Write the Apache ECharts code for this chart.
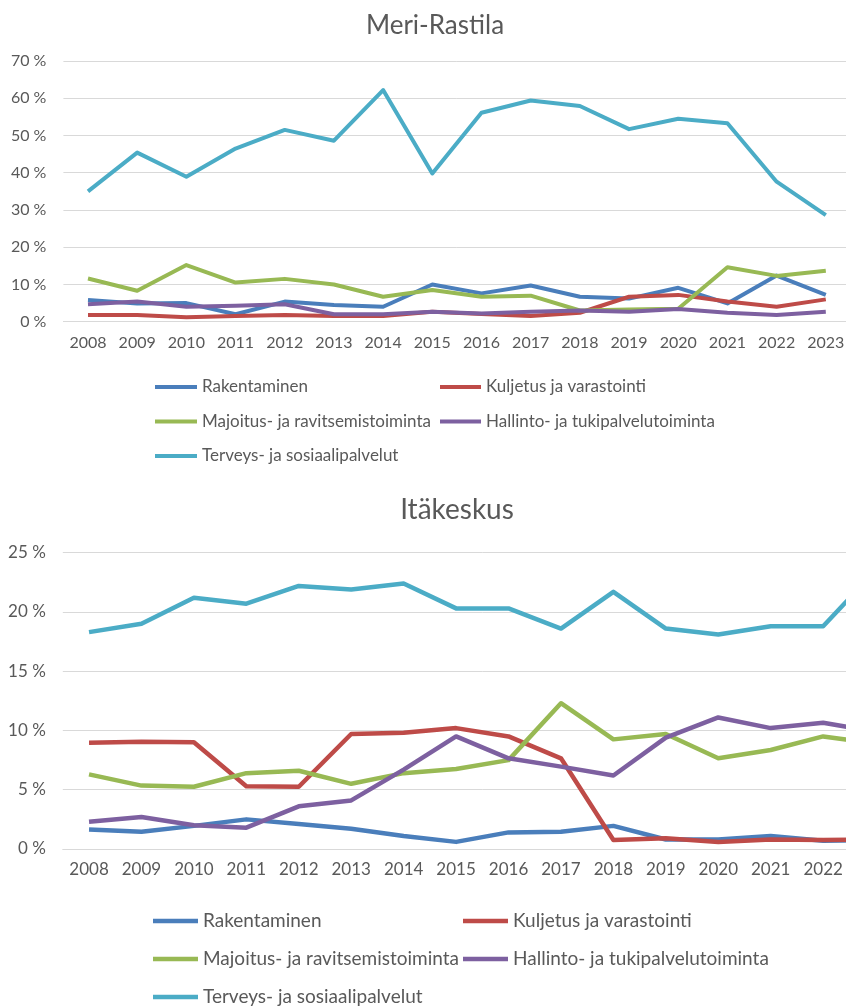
<!DOCTYPE html>
<html>
<head>
<meta charset="utf-8">
<script src="https://cdn.jsdelivr.net/npm/echarts@6/dist/echarts.min.js"></script>
<style>
    html, body { margin: 0; padding: 0; background: #fff; overflow: hidden; width: 846px; height: 1008px; }
    #ET1 { position: absolute; left: 0; top: 0; width: 870px; height: 480px; }
    #ET2 { position: absolute; left: 0; top: 480px; width: 914px; height: 528px; }
</style>
</head>
<body>
<div id="ET1"></div>
<div id="ET2"></div>
<script>
// vuodet
var years = ['2008', '2009', '2010', '2011', '2012', '2013', '2014', '2015',
    '2016', '2017', '2018', '2019', '2020', '2021', '2022', '2023'];

var names = ['Rakentaminen', 'Kuljetus ja varastointi', 'Majoitus- ja ravitsemistoiminta',
    'Hallinto- ja tukipalvelutoiminta', 'Terveys- ja sosiaalipalvelut'];
var colors = ['#4a7ebb', '#be4b48', '#98b954', '#7d60a0', '#4bacc6'];

// Meri-Rastila, osuus %
var mrRakentaminen = [5.8, 4.9, 5.0, 2.0, 5.4, 4.5, 4.0, 10.0, 7.6, 9.7, 6.7, 6.2, 9.1, 4.9, 12.4, 7.2];
var mrKuljetus     = [1.8, 1.8, 1.2, 1.5, 1.8, 1.5, 1.5, 2.7, 2.1, 1.5, 2.4, 6.7, 7.2, 5.4, 4.0, 6.0];
var mrMajoitus     = [11.6, 8.3, 15.2, 10.5, 11.5, 10.0, 6.7, 8.5, 6.7, 7.0, 3.0, 3.3, 3.5, 14.6, 12.3, 13.7];
var mrHallinto     = [4.7, 5.4, 4.0, 4.3, 4.7, 2.0, 2.0, 2.7, 2.2, 2.7, 3.0, 2.7, 3.4, 2.4, 1.8, 2.7];
var mrTerveys      = [35.0, 45.4, 38.9, 46.5, 51.5, 48.6, 62.2, 39.8, 56.1, 59.4, 57.9, 51.7, 54.5, 53.3, 37.6, 28.6];
var mrTicks = {min: 0, max: 70, interval: 10};

// Itäkeskus, osuus %
var ikRakentaminen = [1.65, 1.45, 1.95, 2.5, 2.1, 1.7, 1.1, 0.6, 1.4, 1.45, 1.95, 0.8, 0.8, 1.1, 0.7, 0.75];
var ikKuljetus     = [8.97, 9.05, 9.0, 5.3, 5.25, 9.7, 9.8, 10.2, 9.5, 7.65, 0.76, 0.9, 0.6, 0.8, 0.76, 0.8];
var ikMajoitus     = [6.3, 5.35, 5.25, 6.4, 6.6, 5.5, 6.4, 6.75, 7.5, 12.3, 9.25, 9.7, 7.65, 8.35, 9.5, 8.9];
var ikHallinto     = [2.3, 2.7, 2.0, 1.8, 3.6, 4.1, 6.7, 9.5, 7.65, 6.95, 6.2, 9.4, 11.1, 10.2, 10.65, 9.9];
var ikTerveys      = [18.3, 19.0, 21.2, 20.7, 22.2, 21.9, 22.4, 20.3, 20.3, 18.6, 21.7, 18.6, 18.1, 18.8, 18.8, 23.5];
var ikTicks = {min: 0, max: 25, interval: 5};

var font = 'Lato, "Open Sans", sans-serif';
var textGray = '#595959';

function lines(data, width) {
    return data.map(function (d, i) {
        return {
            name: names[i],
            type: 'line',
            data: d,
            symbol: 'none',
            color: colors[i],
            lineStyle: {width: width, color: colors[i], join: 'round'},
            animation: false
        };
    });
}

~function () {
    var myChart = echarts.init(ET1);
    var legendStyle = {fontFamily: font, fontSize: 17, lineHeight: 18, color: textGray};
    var option = {
        title: {
            text: 'Meri-Rastila',
            left: 'center',
            top: 8,
            textStyle: {fontFamily: font, fontSize: 26, fontWeight: 'normal', color: textGray}
        },
        legend: [
            {
                data: [names[0], names[2], names[4]],
                orient: 'vertical', left: 155, top: 378, padding: 0,
                icon: 'rect', itemWidth: 42, itemHeight: 4, itemGap: 16.5,
                textStyle: legendStyle
            },
            {
                data: [names[1], names[3]],
                orient: 'vertical', left: 440, top: 378, padding: 0,
                icon: 'rect', itemWidth: 41, itemHeight: 4, itemGap: 16.5,
                textStyle: legendStyle
            }
        ],
        grid: {left: 63.4, top: 61, width: 787, height: 260.7},
        xAxis: {
            type: 'category',
            data: years,
            axisLine: {lineStyle: {color: '#d9d9d9'}},
            axisTick: {show: false},
            axisLabel: {fontFamily: font, fontSize: 16, color: textGray, margin: 13, interval: 0}
        },
        yAxis: {
            type: 'value',
            min: mrTicks.min, max: mrTicks.max, interval: mrTicks.interval,
            axisLabel: {formatter: '{value} %', fontFamily: font, fontSize: 16, color: textGray, margin: 17},
            splitLine: {lineStyle: {color: '#d9d9d9'}}
        },
        series: lines([mrRakentaminen, mrKuljetus, mrMajoitus, mrHallinto, mrTerveys], 4)
    };
    myChart.setOption(option);
}();

~function () {
    var myChart = echarts.init(ET2);
    var legendStyle = {fontFamily: font, fontSize: 19, lineHeight: 20, color: textGray};
    var option = {
        title: {
            text: 'Itäkeskus',
            left: 'center',
            top: 11,
            textStyle: {fontFamily: font, fontSize: 28, fontWeight: 'normal', color: textGray}
        },
        legend: [
            {
                data: [names[0], names[2], names[4]],
                orient: 'vertical', left: 153, top: 431, padding: 0,
                icon: 'rect', itemWidth: 45, itemHeight: 4.5, itemGap: 18,
                textStyle: legendStyle
            },
            {
                data: [names[1], names[3]],
                orient: 'vertical', left: 463, top: 431, padding: 0,
                icon: 'rect', itemWidth: 45, itemHeight: 4.5, itemGap: 18,
                textStyle: legendStyle
            }
        ],
        grid: {left: 62.8, top: 72.7, width: 839, height: 296.3},
        xAxis: {
            type: 'category',
            data: years,
            axisLine: {lineStyle: {color: '#d9d9d9'}},
            axisTick: {show: false},
            axisLabel: {fontFamily: font, fontSize: 17, color: textGray, margin: 12, interval: 0}
        },
        yAxis: {
            type: 'value',
            min: ikTicks.min, max: ikTicks.max, interval: ikTicks.interval,
            axisLabel: {formatter: '{value} %', fontFamily: font, fontSize: 17, color: textGray, margin: 17},
            splitLine: {lineStyle: {color: '#d9d9d9'}}
        },
        series: lines([ikRakentaminen, ikKuljetus, ikMajoitus, ikHallinto, ikTerveys], 4.5)
    };
    myChart.setOption(option);
}();
</script>
</body>
</html>
